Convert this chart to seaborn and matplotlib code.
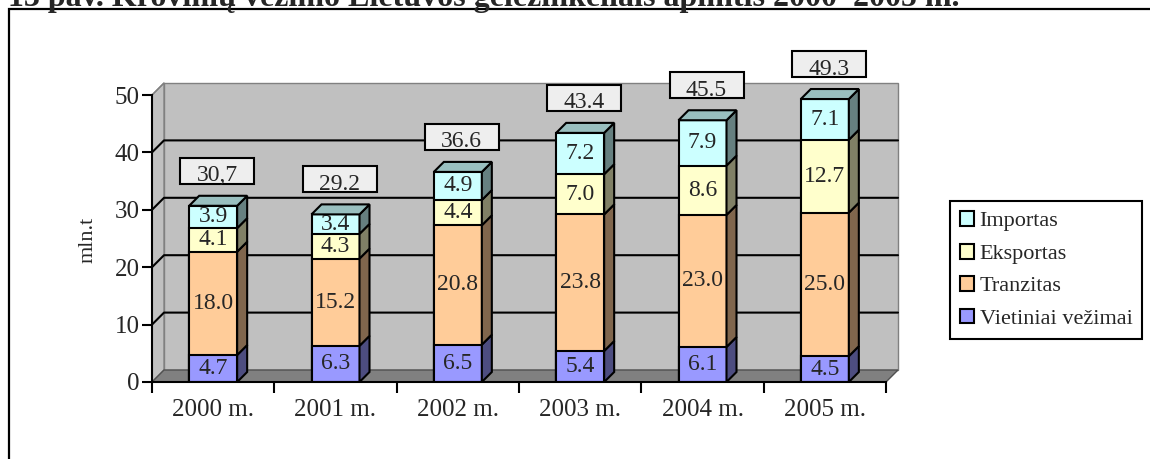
import matplotlib
matplotlib.use("Agg")
import matplotlib.pyplot as plt
from matplotlib.patches import Rectangle, Polygon, Patch
import numpy as np
import pandas as pd
import seaborn as sns

# data (mln. t)
years = ["2000 m.", "2001 m.", "2002 m.", "2003 m.", "2004 m.", "2005 m."]
vietiniai = [4.7, 6.3, 6.5, 5.4, 6.1, 4.5]
tranzitas = [18.0, 15.2, 20.8, 23.8, 23.0, 25.0]
eksportas = [4.1, 4.3, 4.4, 7.0, 8.6, 12.7]
importas = [3.9, 3.4, 4.9, 7.2, 7.9, 7.1]
total_labels = ["30,7", "29.2", "36.6", "43.4", "45.5", "49.3"]
series_names = ["Vietiniai vežimai", "Tranzitas", "Eksportas", "Importas"]

FRONT = ["#9999FF", "#FFCC99", "#FFFFCC", "#CCFFFF"]
SIDE = ["#4D4D80", "#80664D", "#808066", "#668080"]
TOP = "#99BFBF"
WALL = "#C0C0C0"
FLOOR = "#808080"

sns.set_style("white")
plt.rcParams["font.family"] = ["Liberation Serif", "DejaVu Serif"]

W, H = 1150, 459
fig = plt.figure(figsize=(W / 100, H / 100), dpi=100)
ax = fig.add_axes([152 / W, 1 - 382 / H, 734 / W, 287 / H])
ax.set_facecolor("none")

# pixel -> data conversions (axes is 734 x 287 px, 6 categories, 0..50)
px_x = 734 / 6
px_y = 287 / 50
wall_dx, wall_dy = 12 / px_x, 12 / px_y
bar_dx, bar_dy = 10 / px_x, 10 / px_y
bar_w = 48 / px_x

values = np.array([vietiniai, tranzitas, eksportas, importas])
tops = values.cumsum(axis=0)
bottoms = tops - values
df = pd.DataFrame({
    "year": years * 4,
    "series": np.repeat(series_names, len(years)),
    "top": tops.ravel(),
})

# 3d box: back wall, left wall, floor
x0, x1 = -0.5, 5.5
ax.add_patch(Rectangle((x0 + wall_dx, wall_dy), x1 - x0, 50, fc=WALL, ec=FLOOR,
                       lw=1, zorder=0.5, clip_on=False))
ax.add_patch(Polygon([(x0, 0), (x0, 50), (x0 + wall_dx, 50 + wall_dy), (x0 + wall_dx, wall_dy)],
                     closed=True, fc=WALL, ec=FLOOR, lw=1, zorder=0.6, clip_on=False))
ax.add_patch(Polygon([(x0, 0), (x0 + wall_dx, wall_dy), (x1 + wall_dx, wall_dy), (x1, 0)],
                     closed=True, fc=FLOOR, ec="#505050", lw=1, zorder=0.7, clip_on=False))
for yv in range(10, 50, 10):
    ax.plot([x0, x0 + wall_dx, x1 + wall_dx], [yv, yv + wall_dy, yv + wall_dy],
            color="black", lw=1.5, zorder=1, clip_on=False)
ax.plot([x0, x0 + wall_dx], [50, 50 + wall_dy], color=FLOOR, lw=1, zorder=1, clip_on=False)

# front faces: overlaid cumulative bars, tallest first
containers = {}
for k in reversed(range(4)):
    sub = df[df["series"] == series_names[k]]
    sns.barplot(data=sub, x="year", y="top", order=years, color=FRONT[k], saturation=1,
                width=bar_w, edgecolor="black", linewidth=1.5, errorbar=None,
                ax=ax, zorder=3)
    containers[k] = ax.containers[-1]

# side faces, top face, labels
for k in range(4):
    for i, bar in enumerate(containers[k]):
        xl = bar.get_x()
        xr = xl + bar.get_width()
        y0, y1 = bottoms[k][i], tops[k][i]
        ax.add_patch(Polygon([(xr, y0), (xr + bar_dx, y0 + bar_dy), (xr + bar_dx, y1 + bar_dy), (xr, y1)],
                             closed=True, fc=SIDE[k], ec="black", lw=1.5, zorder=3.5, clip_on=False))
        ax.text(xl + bar.get_width() / 2, (y0 + y1) / 2, f"{values[k][i]:.1f}",
                ha="center", va="center", fontsize=17, zorder=4)
        if k == 3:
            ax.add_patch(Polygon([(xl, y1), (xl + bar_dx, y1 + bar_dy), (xr + bar_dx, y1 + bar_dy), (xr, y1)],
                                 closed=True, fc=TOP, ec="black", lw=1.5, zorder=5, clip_on=False))

# total boxes
box_w, box_h = 74 / px_x, 26 / px_y
for i, bar in enumerate(containers[3]):
    cx = bar.get_x() + bar.get_width() / 2 + 4 / px_x
    cy = tops[3][i] + 35 / px_y
    box = Rectangle((cx - box_w / 2, cy - box_h / 2), box_w, box_h, fc="#EEEEEE",
                    ec="black", lw=1.5, zorder=6, clip_on=False)
    ax.add_patch(box)
    t = ax.text(cx, cy - 5 / px_y, total_labels[i], ha="center", va="center",
                fontsize=17, zorder=7)
    t.set_clip_path(box)

ax.set_xlim(x0, x1)
ax.set_ylim(0, 50)
ax.set_xlabel("")
ax.set_ylabel("")
ax.set_yticks(range(0, 51, 10))
ax.set_xticks(np.arange(-0.5, 6, 1))
ax.set_xticklabels([])
ax.set_xticks(range(len(years)), minor=True)
ax.set_xticklabels(years, minor=True)
ax.tick_params(axis="y", which="major", length=7, width=1.5, direction="out",
               labelsize=18, pad=2, left=True, color="black")
ax.tick_params(axis="x", which="major", length=8, width=1.5, direction="out",
               bottom=True, color="black")
ax.tick_params(axis="x", which="minor", length=0, labelsize=18, pad=12)
sns.despine(ax=ax)
for side in ("left", "bottom"):
    ax.spines[side].set_color("black")
    ax.spines[side].set_linewidth(1.5)
    ax.spines[side].set_zorder(8)

fig.text(88 / W, 1 - 240 / H, "mln.t", rotation=90, ha="center", va="center", fontsize=16)
fig.text(8 / W, 1 - 6 / H, "13 pav. Krovinių vežimo Lietuvos geležinkeliais apimtis 2000–2005 m.",
         fontsize=23, fontweight="bold", va="baseline", ha="left")
fig.add_artist(Rectangle((9 / W, -0.1), 1.2, 1.1 - 9 / H, transform=fig.transFigure,
                         fill=False, ec="black", lw=1.6))

handles = [Patch(fc=FRONT[k], ec="black", lw=1.5, label=series_names[k]) for k in reversed(range(4))]
leg = fig.legend(handles=handles, loc="center", bbox_to_anchor=(1046 / W, 1 - 270 / H),
                 frameon=True, fancybox=False, edgecolor="black", framealpha=1,
                 fontsize=16, handlelength=0.65, handleheight=0.65, handletextpad=0.25,
                 labelspacing=0.55, borderpad=0.45, borderaxespad=0)
leg.get_frame().set_linewidth(1.5)

fig.savefig("out.png", dpi=100)
